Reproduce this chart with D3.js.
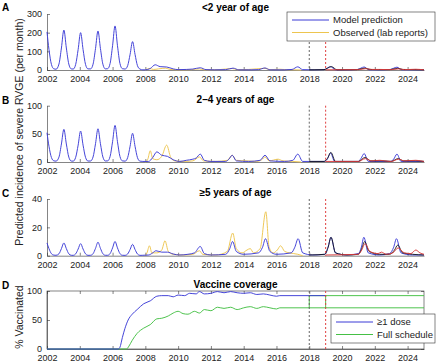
<!DOCTYPE html>
<html>
<head>
<meta charset="utf-8">
<script src="https://cdn.jsdelivr.net/npm/d3@7"></script>
<style>
  body { margin: 0; background: #fff; }
  svg { font-family: "Liberation Sans", Arial, sans-serif; }
  .tick text { font-size: 9px; fill: #222; }
  .tick line, .domain { stroke: #333; stroke-width: 0.6; }
</style>
</head>
<body>
<div id="chart"></div>
<script>
// ---- data: [year, value] points ----
const yearTicks = [2002, 2004, 2006, 2008, 2010, 2012, 2014, 2016, 2018, 2020, 2022, 2024];

const modelA = [[2002.0,204],[2002.12,110],[2002.27,30],[2002.42,6],[2002.55,4],
  [2002.73,32],[2002.88,118],[2003.03,214],[2003.18,118],[2003.33,32],[2003.48,6],
  [2003.6,5],[2003.75,30],[2003.9,110],[2004.05,200],[2004.2,110],[2004.35,30],[2004.5,6],
  [2004.66,6],[2004.81,31],[2004.96,115],[2005.11,209],[2005.26,115],[2005.41,31],[2005.56,6],
  [2005.7,7],[2005.85,35],[2006.0,130],[2006.15,236],[2006.3,130],[2006.45,35],[2006.6,7],
  [2006.77,5],[2006.92,23],[2007.07,84],[2007.22,152],[2007.37,84],[2007.52,23],[2007.67,5],
  [2007.85,1],[2008.0,1],[2008.3,8],[2008.6,28],[2008.9,18],[2009.3,16],[2009.7,6],[2010.0,2],[2010.5,3],[2010.9,5],[2011.35,12],[2011.7,2],[2012.2,1],[2012.9,2],[2013.35,10],[2013.7,1],[2014.5,1],[2014.9,2],[2015.3,11],[2015.6,1],[2016.5,1],[2016.95,3],[2017.3,17],[2017.6,2],[2018.3,1],[2018.9,2],[2019.3,18],[2019.6,1],[2020.5,1],[2020.95,3],[2021.35,16],[2021.65,1],[2022.5,1],[2022.95,3],[2023.35,15],[2023.65,1],[2025,1]];
const blackA = [[2018.0,1],[2018.9,2],[2019.35,18],[2019.7,1],[2020.9,2],[2021.4,10],[2021.7,3],[2022.2,2],[2022.9,2],[2023.4,9],[2023.7,3],[2025,1]];
const redA = [[2019.0,1],[2021.0,2],[2021.45,7],[2021.8,3],[2022.3,3],[2023.0,2],[2023.45,6],[2023.8,2],[2024.5,4],[2025,1]];
const observedA = [[2008.0,0],[2008.25,8],[2008.5,3],[2008.8,6],[2009.25,10],[2009.5,3],[2010,1],[2010.8,2],[2011.3,6],[2011.6,1],[2012.5,2],[2013.3,8],[2013.6,2],[2014.3,3],[2015.3,9],[2015.6,2],[2016.2,4],[2016.6,2],[2017.5,0]];

const modelB = [[2002.0,52],[2002.12,28],[2002.27,8],[2002.42,2],[2002.55,1.5],
  [2002.73,8.7],[2002.88,32],[2003.03,58],[2003.18,32],[2003.33,8.7],[2003.48,1.7],
  [2003.6,1.5],[2003.75,8.3],[2003.9,30],[2004.05,55],[2004.2,30],[2004.35,8.3],[2004.5,1.7],
  [2004.66,1.8],[2004.81,8.9],[2004.96,32.5],[2005.11,59],[2005.26,32.5],[2005.41,8.9],[2005.56,1.8],
  [2005.7,2],[2005.85,9.8],[2006.0,36],[2006.15,65],[2006.3,36],[2006.45,9.8],[2006.6,2],
  [2006.77,1.5],[2006.92,7.7],[2007.07,28],[2007.22,51],[2007.37,28],[2007.52,7.7],[2007.67,1.5],
  [2007.85,1],[2008.2,1],[2008.45,8],[2008.7,18],[2009.0,12],[2009.35,10],[2009.7,4],[2010.1,1],[2010.5,3],[2010.9,5],[2011.1,7],[2011.35,14],[2011.6,3],[2012.0,1],[2012.9,1],[2013.1,5],[2013.3,12],[2013.55,2],[2014.3,1],[2015.0,3],[2015.3,12],[2015.6,2],[2016.5,1],[2017.0,3],[2017.3,14],[2017.6,1],[2018.9,1],[2019.1,5],[2019.3,16],[2019.55,1],[2021.0,1],[2021.15,6],[2021.35,15],[2021.6,1],[2022.95,1],[2023.15,5],[2023.35,14],[2023.6,1],[2025,1]];
const blackB = [[2018,1],[2018.9,1],[2019.1,6],[2019.32,17],[2019.6,1],[2021.0,1],[2021.4,8],[2021.75,2],[2022.5,2],[2023.0,1],[2023.42,6],[2023.75,2],[2024.5,2],[2025,1]];
const redB = [[2019,1],[2021.0,1],[2021.42,6],[2021.8,2],[2022.3,3],[2022.6,2],[2023.0,1],[2023.45,5],[2023.8,2],[2024.5,3],[2024.8,2],[2025,1]];
const observedB = [[2008.0,0],[2008.15,5],[2008.3,20],[2008.45,6],[2008.7,4],[2009.0,10],[2009.3,30],[2009.55,8],[2009.8,2],[2010.3,1],[2010.9,2],[2011.3,9],[2011.55,2],[2012.3,1],[2013.0,3],[2013.3,12],[2013.55,3],[2014.2,2],[2014.8,1],[2015.1,4],[2015.3,9],[2015.55,2],[2016.1,5],[2016.4,2],[2017,1],[2017.5,0]];

const modelC = [[2002.0,9],[2002.12,5],[2002.27,1.4],[2002.42,0.4],[2002.55,0.3],
  [2002.73,1.35],[2002.88,5],[2003.03,9],[2003.18,5],[2003.33,1.35],[2003.48,0.3],
  [2003.6,0.25],[2003.75,1.3],[2003.9,4.7],[2004.05,8.5],[2004.2,4.7],[2004.35,1.3],[2004.5,0.25],
  [2004.66,0.3],[2004.81,1.4],[2004.96,5.2],[2005.11,9.5],[2005.26,5.2],[2005.41,1.4],[2005.56,0.3],
  [2005.7,0.3],[2005.85,1.5],[2006.0,5.5],[2006.15,10],[2006.3,5.5],[2006.45,1.5],[2006.6,0.3],
  [2006.77,0.25],[2006.92,1.2],[2007.07,4.4],[2007.22,8],[2007.37,4.4],[2007.52,1.2],[2007.67,0.25],
  [2007.85,0.3],[2008.2,0.5],[2008.45,2],[2008.65,3.5],[2009.0,2.5],[2009.35,2.5],[2009.7,1.2],[2010.1,0.5],[2010.6,1],[2011.0,2],[2011.35,6.5],[2011.6,1.5],[2012.0,0.5],[2012.9,1],[2013.15,5],[2013.32,10],[2013.55,3],[2014.0,1],[2014.9,2],[2015.15,6],[2015.33,12],[2015.6,3],[2016.0,1],[2016.9,2],[2017.12,6],[2017.32,12],[2017.6,2],[2018.2,0.5],[2018.95,1],[2019.15,6],[2019.32,13],[2019.6,2],[2020.3,0.5],[2021.0,1.5],[2021.18,6],[2021.33,13],[2021.6,2],[2022.3,0.5],[2022.9,1.5],[2023.15,6],[2023.32,12],[2023.6,2],[2024.3,0.5],[2025,0.5]];
const blackC = [[2018,0.5],[2018.95,1],[2019.15,6],[2019.33,13],[2019.6,2],[2020.3,0.5],[2021.0,1],[2021.2,5],[2021.38,10],[2021.65,3],[2022.3,1],[2022.9,1],[2023.2,4],[2023.4,7.5],[2023.7,2],[2024.3,1],[2025,0.5]];
const redC = [[2019,0.5],[2021.0,1],[2021.2,4],[2021.4,8.5],[2021.7,3],[2022.2,1.5],[2022.4,2.5],[2022.7,1],[2023.1,2],[2023.42,5.5],[2023.8,2],[2024.2,1.5],[2024.5,4],[2024.75,2],[2025,1]];
const observedC = [[2008.0,0],[2008.1,2],[2008.25,7],[2008.4,2],[2008.7,2],[2009.0,4],[2009.2,10.5],[2009.4,3],[2009.7,1],[2010.3,0.5],[2010.9,1],[2011.3,3.5],[2011.5,1],[2012.3,0.5],[2013.0,3],[2013.33,16],[2013.55,5],[2013.9,2],[2014.2,4],[2014.4,5],[2014.6,2],[2015.0,5],[2015.35,31],[2015.55,6],[2015.8,2],[2016.05,4],[2016.25,7],[2016.5,3],[2016.8,2],[2017.3,1],[2017.6,0]];

const oneDose = [[2002,0],[2006.35,0],[2006.45,3],[2006.6,20],[2006.75,35],[2006.95,50],[2007.2,60],[2007.5,68],[2007.9,78],[2008.3,83],[2008.7,91],[2009.0,92],[2009.4,92],[2009.7,90],[2010.0,93],[2010.4,92],[2010.7,96],[2011.1,95],[2011.3,99],[2011.6,95],[2012.0,96],[2012.4,99],[2012.8,97],[2013.2,99],[2013.6,97],[2014.0,96],[2014.4,97],[2014.8,94],[2015.2,95],[2015.6,93],[2016.0,91],[2016.2,92],[2019,92]];
const fullSchedule = [[2002,0],[2006.85,0],[2007.0,5],[2007.2,15],[2007.5,27],[2007.9,36],[2008.3,42],[2008.7,52],[2009.0,53],[2009.4,57],[2009.7,62],[2010.0,65],[2010.3,61],[2010.6,60],[2011.0,65],[2011.3,62],[2011.6,68],[2012.0,66],[2012.4,72],[2012.8,70],[2013.2,72],[2013.6,68],[2014.0,71],[2014.4,73],[2014.8,70],[2015.2,73],[2015.6,71],[2016.0,69],[2016.2,71],[2025,71]];
const fullScheduleUp2018 = [[2018,71],[2018,92],[2025,92]];
const fullScheduleUp2019 = [[2019,71],[2019,92]];

const introYear = 2018, switchYear = 2019;

// ---- layout ----
const W = 440, H = 364;
const xLeft = 47, xRight = 424;
const colors = {model: '#3b3bd6', observed: '#edc54f', black: '#111', red: '#d83a3a', green: '#45c045'};

const svg = d3.select('#chart').append('svg').attr('width', W).attr('height', H);
const x = d3.scaleLinear().domain([2002, 2025]).range([xLeft, xRight]);

const panels = [
  {letter: 'A', title: '<2 year of age', max: 300, ticks: [0,100,200,300], top: 14, bottom: 70,
   series: [[observedA, colors.observed], [modelA, colors.model], [blackA, colors.black], [redA, colors.red]]},
  {letter: 'B', title: '2\u20134 years of age', max: 100, ticks: [0,50,100], top: 105.7, bottom: 162,
   series: [[observedB, colors.observed], [modelB, colors.model], [blackB, colors.black], [redB, colors.red]]},
  {letter: 'C', title: '\u22655 years of age', max: 40, ticks: [0,20,40], top: 199, bottom: 255.7,
   series: [[observedC, colors.observed], [modelC, colors.model], [blackC, colors.black], [redC, colors.red]]},
  {letter: 'D', title: 'Vaccine coverage', max: 100, ticks: [0,50,100], top: 291, bottom: 349, box: true,
   series: [[fullSchedule, colors.green], [fullScheduleUp2018, colors.green, 'linear'], [fullScheduleUp2019, colors.green, 'linear'], [oneDose, colors.model]]}
];

panels.forEach(p => {
  const y = d3.scaleLinear().domain([0, p.max]).range([p.bottom, p.top]);
  const g = svg.append('g');

  if (p.box) {
    g.append('rect').attr('x', xLeft).attr('y', p.top)
      .attr('width', xRight - xLeft).attr('height', p.bottom - p.top)
      .attr('fill', 'none').attr('stroke', '#333').attr('stroke-width', 0.6);
    g.append('g').attr('transform', `translate(0,${p.top})`)
      .call(d3.axisTop(x).tickValues(yearTicks).tickSizeInner(-3).tickSizeOuter(0).tickFormat(''))
      .select('.domain').remove();
    g.append('g').attr('transform', `translate(${xRight},0)`)
      .call(d3.axisRight(y).tickValues(p.ticks).tickSizeInner(-3).tickSizeOuter(0).tickFormat(''))
      .select('.domain').remove();
  }

  g.append('g').attr('transform', `translate(0,${p.bottom})`)
    .call(d3.axisBottom(x).tickValues(yearTicks).tickFormat(d3.format('d')).tickSizeInner(-3).tickSizeOuter(0).tickPadding(6));
  g.append('g').attr('transform', `translate(${xLeft},0)`)
    .call(d3.axisLeft(y).tickValues(p.ticks).tickSizeInner(-3).tickSizeOuter(0).tickPadding(5));

  // lines
  p.series.forEach(([pts, col, kind]) => {
    const line = d3.line()
      .x(d => x(d[0])).y(d => y(d[1]))
      .curve(kind === 'linear' ? d3.curveLinear : d3.curveMonotoneX);
    g.append('path').datum(pts)
      .attr('d', line).attr('fill', 'none')
      .attr('stroke', col).attr('stroke-width', 1)
      .attr('stroke-opacity', col === colors.black ? 0.85 : 0.95);
  });

  // introduction markers
  [[introYear, '#666'], [switchYear, '#e04040']].forEach(([yr, col]) => {
    g.append('line').attr('x1', x(yr)).attr('x2', x(yr))
      .attr('y1', p.top).attr('y2', p.bottom)
      .attr('stroke', col).attr('stroke-width', 1).attr('stroke-dasharray', '2,2');
  });

  g.append('text').attr('x', (xLeft + xRight) / 2).attr('y', p.top - 3)
    .attr('text-anchor', 'middle').attr('font-size', 10).attr('font-weight', 'bold')
    .text(p.title);
  g.append('text').attr('x', 2).attr('y', p.top - 2 + (p.letter === 'A' ? -1 : 0))
    .attr('font-size', 10).attr('font-weight', 'bold').text(p.letter);
});

// legends
function legend(x0, y0, w, h, items) {
  const g = svg.append('g');
  g.append('rect').attr('x', x0).attr('y', y0).attr('width', w).attr('height', h)
    .attr('fill', '#fff').attr('stroke', '#333').attr('stroke-width', 0.6);
  items.forEach(([label, col], i) => {
    const cy = y0 + 8 + i * 12.5;
    g.append('line').attr('x1', x0 + 5).attr('x2', x0 + 42).attr('y1', cy).attr('y2', cy)
      .attr('stroke', col).attr('stroke-width', 1);
    g.append('text').attr('x', x0 + 46).attr('y', cy + 3.3).attr('font-size', 9.5).attr('fill', '#222').text(label);
  });
}
legend(287, 12, 148, 29, [['Model prediction', colors.model], ['Observed (lab reports)', colors.observed]]);
legend(331, 314, 104, 29, [['\u22651 dose', colors.model], ['Full schedule', colors.green]]);

// axis titles
svg.append('text').attr('transform', 'translate(23,132) rotate(-90)')
  .attr('text-anchor', 'middle').attr('font-size', 10.5).attr('fill', '#222')
  .text('Predicted incidence of severe RVGE (per month)');
svg.append('text').attr('transform', 'translate(23,317) rotate(-90)')
  .attr('text-anchor', 'middle').attr('font-size', 10.5).attr('fill', '#222')
  .text('% Vaccinated');
</script>
</body>
</html>
